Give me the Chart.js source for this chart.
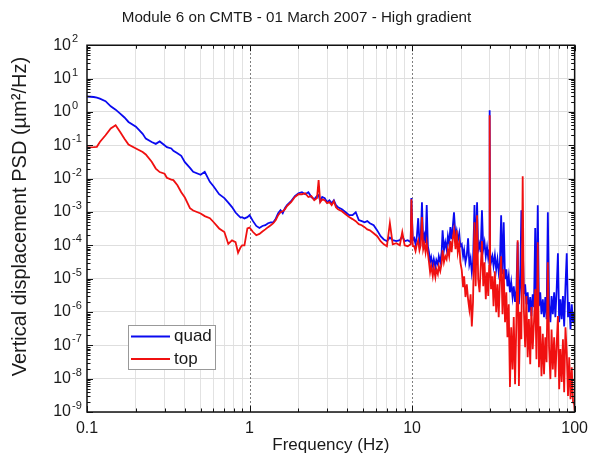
<!DOCTYPE html>
<html>
<head>
<meta charset="utf-8">
<script src="https://cdn.jsdelivr.net/npm/chart.js@4"></script>
<style>
  html, body { margin: 0; padding: 0; background: #fff; }
</style>
</head>
<body>
<canvas id="psdChart" width="595" height="468"></canvas>
<script>
// PSD of vertical displacement, module 6 on CMTB
const freqs = [
  0.1, 0.11, 0.115, 0.12, 0.13, 0.14, 0.15, 0.16, 0.17, 0.18, 0.2, 0.22, 0.23, 0.25, 0.265, 0.28, 0.3, 0.31, 0.33, 0.34,
  0.36, 0.38, 0.4, 0.43, 0.45, 0.5, 0.53, 0.57, 0.6, 0.65, 0.7, 0.74, 0.78, 0.82, 0.85, 0.88, 0.9, 0.93, 0.97, 1.0,
  1.05, 1.1, 1.15, 1.2, 1.25, 1.3, 1.35, 1.4, 1.45, 1.5, 1.55, 1.6, 1.65, 1.7, 1.8, 1.9, 2.0, 2.1, 2.2, 2.3,
  2.4, 2.5, 2.6, 2.66, 2.72, 2.8, 2.9, 3.0, 3.1, 3.2, 3.3, 3.4, 3.5, 3.7, 3.9, 4.1, 4.3, 4.5, 4.7, 4.9,
  5.1, 5.3, 5.5, 5.8, 6.1, 6.4, 6.7, 7.0, 7.3, 7.6, 8.0, 8.4, 8.7, 9.0, 9.4, 9.8, 9.9, 10.1,
  10.3, 10.5, 10.7, 10.9, 11.1, 11.3, 11.5, 11.7, 11.9, 12.1,
  12.3, 12.5, 12.7, 12.9, 13.1, 13.4, 13.6, 13.9, 14.1, 14.4,
  14.6, 14.9, 15.2, 15.4, 15.7, 16.0, 16.3, 16.6, 16.9, 17.2,
  17.5, 17.8, 18.1, 18.5, 18.8, 19.1, 19.5, 19.8, 20.2, 20.6,
  20.9, 21.3, 21.7, 22.1, 22.5, 22.9, 23.3, 23.7, 24.2, 24.6,
  25.1, 25.5, 26.0, 26.4, 26.9, 27.4, 27.9, 28.4, 28.9, 29.4,
  29.8, 30.0, 30.2, 30.6, 31.2, 31.7, 32.3, 32.9, 33.5, 34.1,
  34.7, 35.3, 36.0, 36.6, 37.3, 38.0, 38.6, 39.3, 40.0, 40.7,
  41.5, 42.2, 43.0, 43.8, 44.6, 45.4, 46.2, 47.0, 47.9, 48.7,
  49.6, 50.5, 51.4, 52.3, 53.3, 54.2, 55.2, 56.2, 57.2, 58.2,
  59.3, 60.3, 61.4, 62.5, 63.7, 64.8, 66.0, 67.2, 68.4, 69.6,
  70.9, 72.1, 73.4, 74.8, 76.1, 77.5, 78.9, 80.3, 81.7, 83.2,
  84.7, 86.2, 87.8, 89.4, 91.0, 92.6, 94.3, 96.0, 97.7, 99.4,
  100
];

const quadPsd = [
  2.9, 2.8, 2.7, 2.5, 2.1, 1.47, 1.17, 0.89, 0.68, 0.5, 0.36, 0.22, 0.158, 0.125, 0.11, 0.13, 0.1, 0.088, 0.08, 0.068,
  0.058, 0.048, 0.031, 0.021, 0.016, 0.013, 0.016, 0.008, 0.0059, 0.0034, 0.0026, 0.0019, 0.0014, 9.6e-4, 8e-4, 6.8e-4, 7e-4, 6.4e-4, 7e-4, 8e-4,
  5.3e-4, 3.8e-4, 3.3e-4, 3.8e-4, 4.0e-4, 4.6e-4, 4.9e-4, 4.9e-4, 6.3e-4, 9.2e-4, 1.13e-3, 9.2e-4, 1.3e-3, 1.6e-3, 2.1e-3, 3.0e-3, 3.65e-3, 3.9e-3, 3.4e-3, 3.9e-3,
  2.8e-3, 2.4e-3, 3.0e-3, 3.2e-3, 2.1e-3, 2.8e-3, 2.6e-3, 1.96e-3, 2.25e-3, 1.83e-3, 2.25e-3, 1.6e-3, 1.39e-3, 1.2e-3, 9.8e-4, 8e-4, 8e-4, 9.8e-4, 5.7e-4, 5.3e-4,
  4.9e-4, 5.3e-4, 4.6e-4, 4e-4, 2.8e-4, 1.87e-4, 1.5e-4, 1.33e-4, 1.7e-4, 1.42e-4, 1.33e-4, 1.42e-4, 1.87e-4, 1.33e-4, 1.42e-4, 1.24e-4, 2.6e-3, 1.42e-4,
  1.63e-4, 1.08e-4, 1.87e-4, 6.5e-4, 1.16e-4, 1.75e-4, 1.96e-3, 1.33e-4, 2.0e-4, 1.16e-4,
  1.6e-3, 9.4e-5, 6.2e-5, 3.1e-5, 4.4e-5, 2.4e-5, 3.8e-5, 2.2e-5, 3.6e-5, 2.7e-5,
  4.7e-5, 3.1e-5, 6.2e-5, 2.8e-4, 7.1e-5, 1.24e-4, 7.6e-5, 1.87e-4, 1.08e-4, 3.5e-4,
  1.52e-4, 3.7e-4, 9.8e-4, 1.75e-4, 2.65e-4, 1.33e-4, 2.3e-4, 9.4e-5, 1.08e-4, 4.7e-5,
  7.1e-5, 3.1e-5, 5.0e-5, 1.63e-4, 2.7e-5, 4.1e-5, 1.56e-5, 3.1e-5, 1.6e-3, 4.7e-5,
  1.96e-3, 7.1e-5, 1.08e-4, 6.2e-5, 1.13e-3, 7.6e-5, 1.24e-4, 4.7e-5, 8.8e-5, 4.1e-5,
  7.1e-5, 1.12, 6.2e-5, 3.1e-5, 4.7e-5, 2.4e-5, 5.0e-5, 1.9e-5, 3.8e-5, 1.56e-5,
  3.1e-5, 8.0e-4, 1.36e-5, 4.9e-4, 9.6e-6, 1.9e-5, 5.9e-6, 1.18e-5, 3.9e-6, 7.8e-6,
  2.8e-6, 5.9e-6, 2.0e-6, 4.8e-6, 1.24e-4, 1.7e-6, 5.5e-6, 1.13e-3, 1.42e-4, 3.4e-6,
  6.8e-6, 1.7e-6, 3.9e-6, 9.9e-7, 2.8e-6, 7.5e-7, 3.4e-6, 1.4e-6, 3.3e-4, 9.9e-7,
  1.6e-3, 1.5e-6, 3.9e-6, 8.6e-7, 2.4e-6, 7.0e-7, 2.8e-6, 6.1e-7, 9.8e-4, 1.7e-6,
  4.9e-7, 3.0e-6, 8.6e-7, 3.9e-6, 7.0e-7, 4.8e-6, 5.8e-5, 4.9e-7, 2.4e-6, 6.1e-7,
  3.0e-6, 3.7e-7, 5.9e-6, 5.8e-5, 7.0e-7, 2.0e-6, 3.0e-7, 1.7e-6, 4.9e-7, 9.9e-7,
  4.3e-7
];

const topPsd = [
  0.087, 0.088, 0.09, 0.125, 0.2, 0.32, 0.4, 0.25, 0.158, 0.105, 0.08, 0.063, 0.053, 0.032, 0.02, 0.0157, 0.014, 0.0106, 0.0093, 0.009,
  0.0063, 0.0039, 0.0027, 0.0013, 0.0011, 9e-4, 7.5e-4, 6.5e-4, 5e-4, 3.2e-4, 2.5e-4, 1.1e-4, 1.4e-4, 1.25e-4, 6e-5, 8.6e-5, 1e-4, 1e-4, 3.2e-4, 3.4e-4,
  2.5e-4, 2.0e-4, 2.2e-4, 2.6e-4, 3.0e-4, 3.5e-4, 4.0e-4, 4.6e-4, 5.7e-4, 8e-4, 9.8e-4, 1.05e-3, 1.2e-3, 1.5e-3, 1.96e-3, 2.8e-3, 3.4e-3, 3.4e-3, 3.65e-3, 2.8e-3,
  3.0e-3, 2.25e-3, 2.6e-3, 9e-3, 1.96e-3, 2.4e-3, 2.25e-3, 1.83e-3, 1.96e-3, 1.6e-3, 2.1e-3, 1.39e-3, 1.2e-3, 1.05e-3, 8.5e-4, 7e-4, 6.1e-4, 5.3e-4, 4.3e-4, 4e-4,
  3.5e-4, 3e-4, 2.8e-4, 2.3e-4, 1.87e-4, 1.33e-4, 1.07e-4, 9.4e-5, 4.6e-4, 1.07e-4, 1.16e-4, 1.0e-4, 2.5e-4, 1.0e-4, 9.4e-5, 1.07e-4, 2.4e-3, 9.4e-5,
  9.4e-5, 6.7e-5, 1.08e-4, 1.42e-4, 7.1e-5, 1.0e-4, 7.0e-4, 7.6e-5, 1.08e-4, 6.2e-5,
  1.24e-4, 5.8e-5, 3.1e-5, 1.56e-5, 2.4e-5, 1.18e-5, 2.1e-5, 1.1e-5, 1.9e-5, 1.36e-5,
  2.4e-5, 1.67e-5, 2.9e-5, 7.1e-5, 3.1e-5, 4.7e-5, 3.8e-5, 7.6e-5, 4.7e-5, 1.33e-4,
  6.2e-5, 1.63e-4, 2.8e-4, 7.6e-5, 2.8e-4, 6.2e-5, 1.16e-4, 3.1e-5, 1.8e-5, 5.5e-6,
  1.18e-5, 2.8e-6, 6.8e-6, 2.4e-6, 1.2e-6, 3.4e-6, 3.7e-7, 2.0e-6, 4.9e-4, 5.9e-6,
  8.0e-4, 9.6e-6, 3.9e-6, 1.9e-5, 1.33e-4, 5.9e-6, 3.1e-5, 2.4e-6, 1.56e-5, 3.0e-6,
  2.4e-5, 0.8, 3.1e-5, 4.8e-6, 1.18e-5, 1.5e-6, 1.67e-5, 9.9e-7, 6.8e-6, 7.0e-7,
  9.6e-6, 4.7e-5, 8.6e-7, 1.9e-5, 4.9e-7, 3.9e-6, 1.75e-7, 1.7e-6, 5.6e-9, 3.5e-7,
  1.9e-8, 7.0e-7, 6.8e-9, 4.9e-7, 1.42e-4, 6.0e-9, 9.9e-7, 1.53e-7, 1.18e-2, 1.2e-6,
  8.8e-8, 3.0e-6, 4.4e-8, 6.1e-7, 2.7e-8, 1.4e-6, 7.7e-8, 4.9e-7, 4.8e-6, 3.8e-8,
  1.24e-4, 2.2e-8, 3.7e-7, 1.19e-8, 2.2e-7, 1.36e-8, 1.75e-7, 3.1e-8, 3.1e-5, 8.8e-8,
  9.7e-9, 3.0e-7, 1.9e-8, 1.75e-7, 1.1e-8, 1.08e-7, 7.5e-7, 4.8e-9, 7.7e-8, 7.9e-9,
  1.53e-7, 3.9e-9, 3.5e-7, 6.2e-8, 3.0e-9, 4.4e-8, 2.4e-9, 2.2e-8, 2.0e-9, 1.7e-9,
  1.1e-9
];

const xDecades = [0.1, 1, 10, 100];
const xTickLabels = ['0.1', '1', '10', '100'];
const yDecades = [1e-9, 1e-8, 1e-7, 1e-6, 1e-5, 1e-4, 1e-3, 1e-2, 1e-1, 1, 10, 100];
const yExponents = ['-9', '-8', '-7', '-6', '-5', '-4', '-3', '-2', '-1', '0', '1', '2'];
const yTitle = 'Vertical displacement PSD (\u00b5m\u00b2/Hz)';

const FONT = "'Liberation Sans', Arial, sans-serif";
const TEXT = '#1a1a1a';

function decadeIndex(list, v) {
  return list.findIndex(d => Math.abs(d - v) < d * 1e-6);
}

// 1..9 x each decade, for tick marks and minor grid
function logTicks(decades) {
  const out = [];
  decades.forEach((d, i) => {
    out.push(d);
    if (i < decades.length - 1) {
      const e = Math.round(Math.log10(d));
      for (let m = 2; m <= 9; m++) out.push(parseFloat(m + 'e' + e));
    }
  });
  return out;
}
const xTickValues = logTicks(xDecades);
const yTickValues = logTicks(yDecades);

const matlabFrame = {
  id: 'matlabFrame',
  beforeDatasetsDraw(chart) {
    const { ctx, chartArea: a, scales: { x } } = chart;
    ctx.save();
    ctx.strokeStyle = '#555';
    ctx.lineWidth = 1;
    ctx.setLineDash([1.5, 2.5]);
    xDecades.slice(1, -1).forEach(v => {
      const px = Math.round(x.getPixelForValue(v)) + 0.5;
      ctx.beginPath();
      ctx.moveTo(px, a.top);
      ctx.lineTo(px, a.bottom);
      ctx.stroke();
    });
    ctx.restore();
  },
  afterDraw(chart) {
    const { ctx, chartArea: a, scales: { x, y } } = chart;
    ctx.save();
    ctx.strokeStyle = '#111';
    ctx.lineWidth = 1;

    // inward tick marks on all four sides
    ctx.beginPath();
    xTickValues.forEach(v => {
      const len = decadeIndex(xDecades, v) >= 0 ? 6 : 3.5;
      const px = Math.round(x.getPixelForValue(v)) + 0.5;
      ctx.moveTo(px, a.bottom); ctx.lineTo(px, a.bottom - len);
      ctx.moveTo(px, a.top); ctx.lineTo(px, a.top + len);
    });
    yTickValues.forEach(v => {
      const len = decadeIndex(yDecades, v) >= 0 ? 6 : 3.5;
      const py = Math.round(y.getPixelForValue(v)) + 0.5;
      ctx.moveTo(a.left, py); ctx.lineTo(a.left + len, py);
      ctx.moveTo(a.right, py); ctx.lineTo(a.right - len, py);
    });
    ctx.stroke();

    // axes box
    ctx.lineWidth = 1.5;
    ctx.strokeRect(a.left, a.top, a.right - a.left, a.bottom - a.top);

    // exponents of the y tick labels
    ctx.fillStyle = TEXT;
    ctx.font = '11px ' + FONT;
    ctx.textAlign = 'left';
    ctx.textBaseline = 'middle';
    yDecades.forEach((v, i) => {
      ctx.fillText(yExponents[i], a.left - 15, y.getPixelForValue(v) - 6);
    });

    // y axis title, rotated, sitting a little above the middle of the axis
    ctx.save();
    ctx.translate(20, (a.top + a.bottom) / 2 - 12);
    ctx.rotate(-Math.PI / 2);
    ctx.font = '20px ' + FONT;
    ctx.textAlign = 'center';
    ctx.fillText(yTitle, 0, 0);
    ctx.restore();

    // legend box in the lower left of the plot
    const bx = a.left + 41, by = a.bottom - 87, bw = 87, bh = 44;
    ctx.fillStyle = '#fff';
    ctx.fillRect(bx, by, bw, bh);
    ctx.strokeStyle = '#999';
    ctx.lineWidth = 1;
    ctx.strokeRect(bx + 0.5, by + 0.5, bw, bh);
    ctx.font = '17px ' + FONT;
    ctx.textAlign = 'left';
    ctx.textBaseline = 'middle';
    chart.data.datasets.forEach((ds, i) => {
      const ly = by + 11.5 + i * 22.5;
      ctx.strokeStyle = ds.borderColor;
      ctx.lineWidth = 2;
      ctx.beginPath();
      ctx.moveTo(bx + 3, ly);
      ctx.lineTo(bx + 42, ly);
      ctx.stroke();
      ctx.fillStyle = TEXT;
      ctx.fillText(ds.label, bx + 46, ly);
    });
    ctx.restore();
  }
};

new Chart(document.getElementById('psdChart'), {
  type: 'line',
  data: {
    datasets: [
      {
        label: 'quad',
        data: freqs.map((f, i) => ({ x: f, y: quadPsd[i] })),
        borderColor: '#0a0af0',
        borderWidth: 1.8,
        pointRadius: 0,
        order: 1
      },
      {
        label: 'top',
        data: freqs.map((f, i) => ({ x: f, y: topPsd[i] })),
        borderColor: '#f01010',
        borderWidth: 1.8,
        pointRadius: 0,
        order: 0
      }
    ]
  },
  options: {
    responsive: false,
    animation: false,
    layout: { padding: { left: 13, right: 15, top: 0, bottom: 0 } },
    plugins: {
      legend: { display: false },
      tooltip: { enabled: false },
      title: {
        display: true,
        text: 'Module 6 on CMTB - 01 March 2007 - High gradient',
        color: TEXT,
        font: { family: FONT, size: 15.2, weight: 'normal' },
        padding: { top: 9, bottom: 18 }
      }
    },
    scales: {
      x: {
        type: 'logarithmic',
        min: 0.1,
        max: 100,
        afterBuildTicks: scale => { scale.ticks = xTickValues.map(v => ({ value: v })); },
        afterFit: scale => { scale.height = 56; },
        border: { display: false },
        grid: {
          drawTicks: false,
          color: c => (c.tick && decadeIndex(xDecades, c.tick.value) < 0) ? '#e2e2e2' : 'rgba(0,0,0,0)'
        },
        ticks: {
          autoSkip: false,
          maxRotation: 0,
          minRotation: 0,
          padding: 7,
          color: TEXT,
          font: { family: FONT, size: 16 },
          callback: v => {
            const i = decadeIndex(xDecades, v);
            return i >= 0 ? xTickLabels[i] : '';
          }
        },
        title: {
          display: true,
          text: 'Frequency (Hz)',
          color: TEXT,
          font: { family: FONT, size: 17 },
          padding: { top: 0, bottom: 12 }
        }
      },
      y: {
        type: 'logarithmic',
        min: 1e-9,
        max: 100,
        afterBuildTicks: scale => { scale.ticks = yTickValues.map(v => ({ value: v })); },
        afterFit: scale => { scale.width = 74; },
        border: { display: false },
        grid: {
          drawTicks: false,
          color: c => (c.tick && decadeIndex(yDecades, c.tick.value) >= 0) ? '#dedede' : 'rgba(0,0,0,0)'
        },
        ticks: {
          autoSkip: false,
          padding: 16,
          color: TEXT,
          font: { family: FONT, size: 16 },
          callback: v => (decadeIndex(yDecades, v) >= 0 ? '10' : '')
        }
      }
    }
  },
  plugins: [matlabFrame]
});
</script>
</body>
</html>
